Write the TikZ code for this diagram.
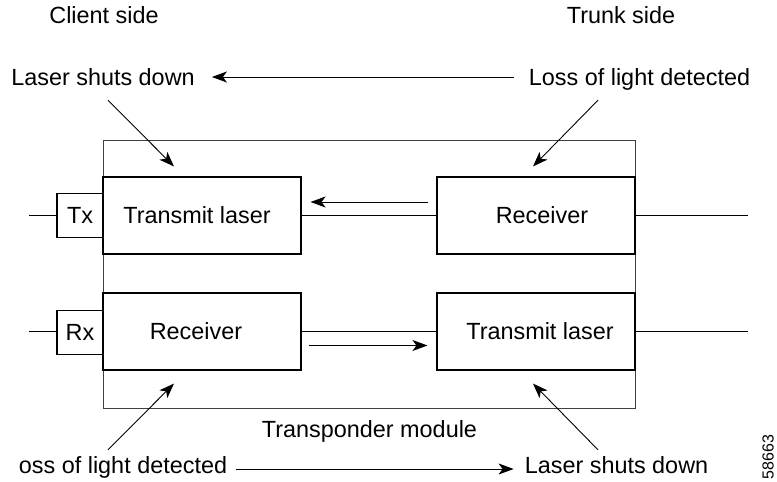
\documentclass[tikz,border=0pt]{standalone}
\usepackage{fontspec}
\setmainfont{Liberation Sans}
\usetikzlibrary{arrows.meta}
\tikzset{
  box/.style={draw, line width=1.1pt, minimum width=198pt, minimum height=77pt, inner sep=0pt, fill=white},
  port/.style={draw, line width=1.1pt, minimum width=46pt, minimum height=44pt, inner sep=0pt, fill=white},
  lbl/.style={inner sep=0pt, anchor=base, text height=17pt, text depth=5pt},
  arr/.style={line width=0.9pt, -{Stealth[length=15pt,width=11pt,inset=4pt]}},
  wire/.style={line width=1.1pt},
  modulebox/.style={draw=black!75, line width=1pt, minimum width=532pt, minimum height=268pt, inner sep=0pt}
}
\begin{document}
\begin{tikzpicture}[x=1pt,y=-1pt,font=\fontsize{23.4}{28}\selectfont]
\useasboundingbox (0,0) rectangle (777,482);
% module
\node[modulebox] (module) at (369,274) {};
% boxes
\node[box, label={[xshift=-5pt]center:Transmit laser}] (txl) at (202,215.5) {};
\node[box, label={[xshift=-6pt]center:Receiver}] (rxL) at (202,331.5) {};
\node[box, label={[xshift=6pt]center:Receiver}] (recR) at (536,215.5) {};
\node[box, label={[xshift=4pt]center:Transmit laser}] (txR) at (536,331.5) {};
\node[port] (tx) at (80,215.5) {Tx};
\node[port] (rx) at (80,332.5) {Rx};
% free ends
\coordinate (cin) at (29,215.5);
\coordinate (cout) at (29,331.5);
\coordinate (tin) at (748,215.5);
\coordinate (tout) at (748,331.5);
% labels
\node[lbl] (client) at (104,23) {Client side};
\node[lbl] (trunk) at (621,23) {Trunk side};
\node[lbl] (laserT) at (103,85) {Laser shuts down};
\node[lbl] (lossT) at (639.5,85) {Loss of light detected};
\node[lbl] (trans) at (369.5,437) {Transponder module};
\node[lbl] (lossB) at (123,473) {oss of light detected};
\node[lbl] (laserB) at (616.5,473) {Laser shuts down};
\node[rotate=90, font=\fontsize{16}{18}\selectfont, inner sep=0pt] (fig) at (768,457) {58663};
% wires
\draw[wire] (cin) -- (cin -| tx.west);
\draw[wire] (cout) -- (cout -| rx.west);
\draw[wire] (txl.east) -- (recR.west);
\draw[wire] (rxL.east) -- (txR.west);
\draw[wire] (recR.east) -- (tin);
\draw[wire] (txR.east) -- (tout);
% arrows
\draw[arr] ([xshift=-15pt,yshift=2pt]lossT.west) -- ([xshift=17pt,yshift=2pt]laserT.east);
\draw[arr] ([xshift=9pt,yshift=-2pt]lossB.east) -- ([xshift=-11pt,yshift=-2pt]laserB.west);
\draw[arr] ([xshift=5pt,yshift=-10pt]laserT.south) -- ([xshift=-28pt,yshift=10pt]txl.north);
\draw[arr] ([xshift=-41.5pt,yshift=-10pt]lossT.south) -- ([xshift=-3pt,yshift=10pt]recR.north);
\draw[arr] ([xshift=-15pt,yshift=6pt]lossB.north) -- ([xshift=-28pt,yshift=-13pt]rxL.south);
\draw[arr] ([xshift=-18.5pt,yshift=6pt]laserB.north) -- ([xshift=-3pt,yshift=-13pt]txR.south);
\draw[arr] ([xshift=-8pt,yshift=13.5pt]recR.west) -- ([xshift=9pt,yshift=13.5pt]txl.east);
\draw[arr] ([xshift=7pt,yshift=-14pt]rxL.east) -- ([xshift=-9pt,yshift=-14pt]txR.west);
\end{tikzpicture}
\end{document}
